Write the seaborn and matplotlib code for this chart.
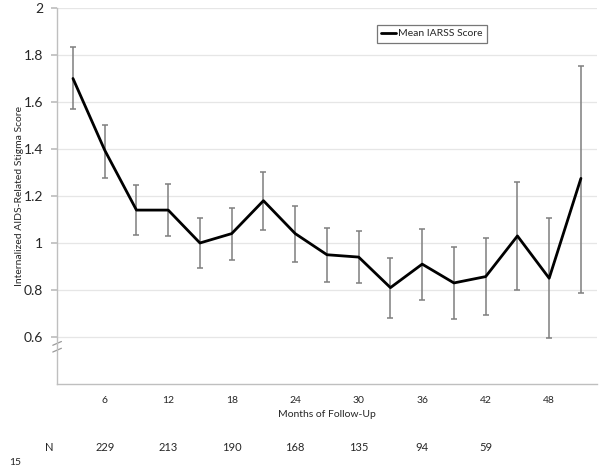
import matplotlib
matplotlib.use("Agg")
import matplotlib.pyplot as plt
import matplotlib.transforms as mtransforms
import seaborn as sns
import pandas as pd

sns.set_theme(style="white")
plt.rcParams["font.family"] = ["Lato", "DejaVu Sans"]

# Data
months = [3, 6, 9, 12, 15, 18, 21, 24, 27, 30, 33, 36, 39, 42, 45, 48, 51]
mean_score = [1.70, 1.395, 1.14, 1.14, 1.00, 1.04, 1.18, 1.04, 0.95, 0.94,
              0.81, 0.91, 0.83, 0.857, 1.03, 0.85, 1.275]
err_high = [1.833, 1.50, 1.247, 1.25, 1.106, 1.148, 1.303, 1.157, 1.063, 1.051,
            0.937, 1.06, 0.982, 1.023, 1.258, 1.105, 1.754]
err_low = [1.569, 1.278, 1.033, 1.03, 0.892, 0.929, 1.057, 0.92, 0.835, 0.828,
           0.680, 0.757, 0.675, 0.694, 0.80, 0.594, 0.786]
tick_months = [6, 12, 18, 24, 30, 36, 42, 48]
n_months = [6, 12, 18, 24, 30, 36, 42]
n_values = [229, 213, 190, 168, 135, 94, 59]

df = pd.DataFrame({"Month": months, "Score": mean_score})

fig = plt.figure(figsize=(6.01, 4.70), dpi=100)
ax = fig.add_axes([0.095, 0.183, 0.898, 0.800])

yerr = [[m - lo for m, lo in zip(mean_score, err_low)],
        [hi - m for m, hi in zip(mean_score, err_high)]]
ax.errorbar(months, mean_score, yerr=yerr, fmt="none", ecolor="#7f7f7f",
            elinewidth=1.1, capsize=2, capthick=1.1, zorder=2)
sns.lineplot(data=df, x="Month", y="Score", color="black", linewidth=2,
             ax=ax, label="Mean IARSS Score", zorder=3)

ax.set_xlim(1.5, 52.5)
ax.set_ylim(0.4, 2.0)
ax.set_yticks([0.6, 0.8, 1.0, 1.2, 1.4, 1.6, 1.8, 2.0])
ax.set_yticklabels(["0.6", "0.8", "1", "1.2", "1.4", "1.6", "1.8", "2"], fontsize=10)
ax.set_xticks(tick_months)
ax.set_xticklabels([str(m) for m in tick_months], fontsize=7.5)
ax.tick_params(axis="x", length=0, pad=9)
ax.tick_params(axis="y", length=4, color="#bfbfbf", pad=6, left=True)
ax.yaxis.grid(True, color="#e6e6e6", linewidth=0.9)
ax.set_axisbelow(True)
for side in ["top", "right"]:
    ax.spines[side].set_visible(False)
for side in ["left", "bottom"]:
    ax.spines[side].set_color("#bfbfbf")
    ax.spines[side].set_linewidth(1)

ax.set_xlabel("Months of Follow-Up", fontsize=7.5, labelpad=3)
ax.set_ylabel("Internalized AIDS-Related Stigma Score", fontsize=7.5, labelpad=0)

# axis break mark
for dy in [0.0, 0.018]:
    ax.plot([-0.008, 0.008], [0.085 + dy, 0.095 + dy], transform=ax.transAxes,
            color="#9a9a9a", linewidth=0.9, clip_on=False)

leg = ax.legend(loc="upper left", bbox_to_anchor=(0.593, 0.955), fontsize=7.5,
                frameon=True, fancybox=False, handlelength=1.4, handletextpad=0.2,
                borderpad=0.4, borderaxespad=0)
leg.get_frame().set_edgecolor("#555555")
leg.get_frame().set_linewidth(0.9)

# N row below the axis
trans = mtransforms.blended_transform_factory(ax.transData, fig.transFigure)
ax.text(0.8, 0.047, "N", transform=trans, ha="center", va="center", fontsize=8)
for m, n in zip(n_months, n_values):
    ax.text(m, 0.047, str(n), transform=trans, ha="center", va="center", fontsize=8)
fig.text(0.015, 0.017, "15", ha="left", va="center", fontsize=7.5)

fig.savefig("out.png", dpi=100)
